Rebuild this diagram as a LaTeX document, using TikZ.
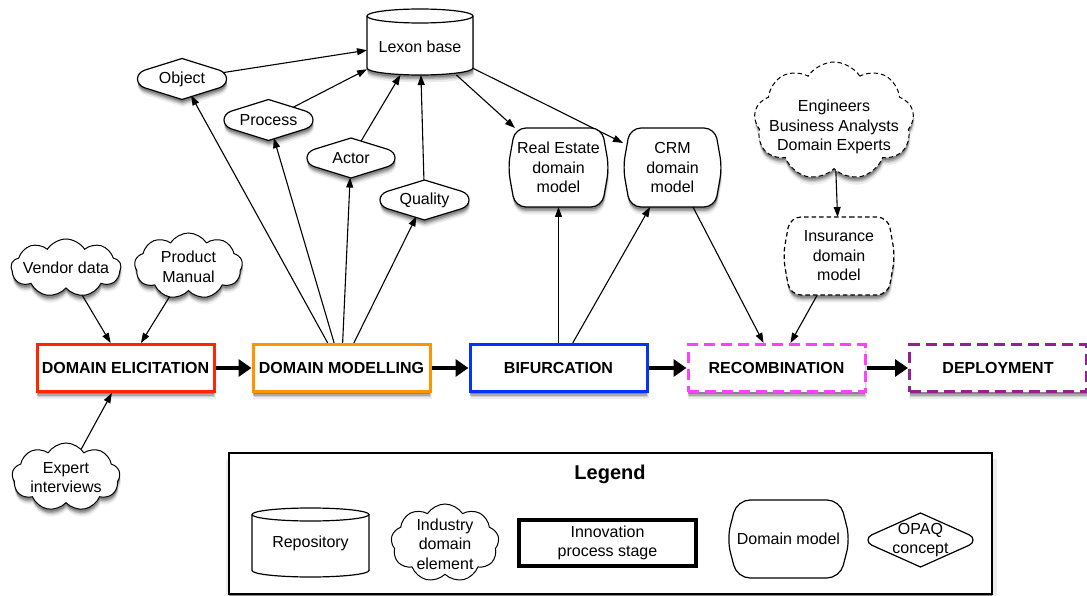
\documentclass[tikz,border=0pt]{standalone}
\usepackage{fontspec}
\setmainfont{Liberation Sans}
\usetikzlibrary{shapes.geometric,shapes.symbols,arrows.meta,shadows}

\pgfdeclarelayer{frame}
\pgfdeclarelayer{links}
\pgfdeclarelayer{outlines}
\pgfsetlayers{frame,links,outlines,main}

\definecolor{elicit}{RGB}{255,38,0}
\definecolor{modelc}{RGB}{255,147,0}
\definecolor{bifur}{RGB}{4,51,255}
\definecolor{recomb}{RGB}{255,64,255}
\definecolor{deploy}{RGB}{148,33,146}

\tikzset{
  lbl/.style={font=\fontsize{16}{19.5}\selectfont, align=center, inner sep=0pt},
  softshadow/.style={
    general shadow={fill=black, opacity=0.07, shadow xshift=0.8pt, shadow yshift=-7pt, shadow scale=1.01},
    general shadow={fill=black, opacity=0.12, shadow xshift=0.6pt, shadow yshift=-5.5pt},
    general shadow={fill=black, opacity=0.18, shadow xshift=0.4pt, shadow yshift=-4pt},
    general shadow={fill=black, opacity=0.22, shadow xshift=0.2pt, shadow yshift=-2.5pt}},
  stage/.style={rectangle, draw=#1, line width=3pt, fill=white, minimum width=177pt,
    minimum height=47pt, inner sep=0pt, font=\fontsize{16}{19.5}\selectfont\bfseries, softshadow},
  dashedstage/.style={stage=#1, dash pattern=on 11pt off 6pt},
  shortdash/.style={dash pattern=on 4.5pt off 3pt},
  link/.style={line width=1.1pt, -{Triangle[length=10pt,width=7pt]}},
  flow/.style={line width=4pt, -{Triangle[length=13pt,width=17pt]}},
  outline/.style={draw=black, line width=1.2pt, fill=white},
  puff/.style={cloud, cloud puffs=9, cloud puff arc=115, cloud ignores aspect, draw=black,
    line width=1pt, fill=white, inner sep=0pt, outer sep=0pt},
}

% OPAQ concept: pointed top and bottom, rounded ends
% [style] name, cx, cy, half width, half height, corner x fraction, corner y fraction, text
\newcommand\opaqnode[9][]{%
  \begin{pgfonlayer}{outlines}
    \path[outline,#1] ({#3},{#4-#6})
      -- ({#3+#7*#5},{#4-#8*#6})
      .. controls ({#3+(4-#7)/3*#5},{#4-0.6*#8*#6}) and ({#3+(4-#7)/3*#5},{#4+0.6*#8*#6}) .. ({#3+#7*#5},{#4+#8*#6})
      -- ({#3},{#4+#6})
      -- ({#3-#7*#5},{#4+#8*#6})
      .. controls ({#3-(4-#7)/3*#5},{#4+0.6*#8*#6}) and ({#3-(4-#7)/3*#5},{#4-0.6*#8*#6}) .. ({#3-#7*#5},{#4-#8*#6})
      -- cycle;
  \end{pgfonlayer}
  \node[diamond, minimum width={2*#5}, minimum height={2*#6}, inner sep=0pt, outer sep=0pt] (#2) at ({#3},{#4}) {};
  \node[lbl] at (#2.center) {#9};}

% domain model: flat top and bottom, bowed sides
% [style] name, cx, cy, half width, half height, side bow, corner radius, text
\newcommand\dmnode[9][]{%
  \begin{pgfonlayer}{outlines}
    \path[outline, rounded corners=#8pt, #1] ({#3},{#4-#6}) -- ({#3+#5-#7},{#4-#6}) -- ({#3+#5},{#4})
      -- ({#3+#5-#7},{#4+#6}) -- ({#3-#5+#7},{#4+#6}) -- ({#3-#5},{#4}) -- ({#3-#5+#7},{#4-#6}) -- cycle;
  \end{pgfonlayer}
  \node[lbl, minimum width={2*#5}, minimum height={2*#6}, outer sep=0pt] (#2) at ({#3},{#4}) {#9};}

% repository cylinder: [style] cx, top rim y, bottom rim y, half width, rim half height
\newcommand\cylshape[6][]{%
  \path[outline,#1] ({#2-#5},{#3}) -- ({#2-#5},{#4})
    arc[start angle=180, end angle=360, x radius=#5pt, y radius=#6pt]
    -- ({#2+#5},{#3}) arc[start angle=0, end angle=180, x radius=#5pt, y radius=#6pt] -- cycle;
  \draw[line width=1.2pt] ({#2-#5},{#3}) arc[start angle=180, end angle=360, x radius=#5pt, y radius=#6pt];}

\begin{document}
\begin{tikzpicture}[x=1pt, y=-1pt]
\useasboundingbox (0,0) rectangle (1087,596);

% ---------- repository ----------
\begin{pgfonlayer}{outlines}
  \cylshape[softshadow]{420}{16}{68}{53}{7}
\end{pgfonlayer}
\node[minimum width=106pt, minimum height=66pt, inner sep=0pt, outer sep=0pt] (lexon) at (420,42) {};
\node[lbl] at (420,47) {Lexon base};

% ---------- OPAQ concepts ----------
\opaqnode[softshadow]{obj}{182}{79}{44.5}{20.5}{0.84}{0.43}{Object}
\opaqnode[softshadow]{proc}{268.5}{120}{44.5}{20.5}{0.84}{0.43}{Process}
\opaqnode[softshadow]{act}{351}{158}{44}{20}{0.84}{0.43}{Actor}
\opaqnode[softshadow]{qual}{424.5}{200}{44.5}{20}{0.84}{0.43}{Quality}

% ---------- domain models ----------
\dmnode[softshadow]{re}{558.5}{167.5}{50.5}{39.5}{7}{11}{Real Estate\\domain\\model}
\dmnode[softshadow]{crm}{672.5}{167.5}{49.5}{39.5}{7}{11}{CRM\\domain\\model}
\dmnode[softshadow, shortdash]{ins}{839}{256}{56}{39}{7}{11}{Insurance\\domain\\model}

% ---------- industry domain elements ----------
\node[puff, minimum width=110pt, minimum height=58pt, softshadow] (vendor) at (66,268) {};
\node[lbl] at (vendor.center) {Vendor data};
\node[puff, minimum width=108pt, minimum height=66pt, softshadow] (prod) at (188.5,266) {};
\node[lbl] at (188.5,267) {Product\\Manual};
\node[puff, minimum width=108pt, minimum height=68pt, softshadow] (expert) at (66,477) {};
\node[lbl] at (66,477.5) {Expert\\interviews};
\node[puff, shortdash, minimum width=160pt, minimum height=118pt, softshadow] (eng) at (834,121) {};
\node[lbl] at (834,127) {Engineers\\Business Analysts\\Domain Experts};

% ---------- innovation process stages ----------
\node[stage=elicit] (de) at (125.5,368) {DOMAIN ELICITATION};
\node[stage=modelc] (dm) at (341.5,368) {DOMAIN MODELLING};
\node[stage=bifur] (bif) at (558.5,368) {BIFURCATION};
\node[dashedstage=recomb] (rec) at (776.5,368) {RECOMBINATION};
\node[dashedstage=deploy] (dep) at (998,368) {DEPLOYMENT};

% ---------- connectors ----------
\begin{pgfonlayer}{links}
  \draw[flow] (de) -- (dm);
  \draw[flow] (dm) -- (bif);
  \draw[flow] (bif) -- (rec);
  \draw[flow] (rec) -- (dep);

  \draw[link] (vendor) -- (de);
  \draw[link] (prod) -- (de);
  \draw[link] (expert) -- (de);

  \draw[link] (dm) -- (obj);
  \draw[link] (dm) -- (proc);
  \draw[link] (dm) -- (act);
  \draw[link] (dm) -- (qual);

  \draw[link] (obj) -- (lexon);
  \draw[link] (proc) -- (lexon);
  \draw[link] (act) -- (lexon);
  \draw[link] (qual) -- (lexon);

  \draw[link] (lexon) -- (re);
  \draw[link] (lexon) -- (crm);
  \draw[link] (bif) -- (re);
  \draw[link] (bif) -- (crm);
  \draw[link] (crm) -- (rec);
  \draw[link] (ins) -- (rec);
  \draw[link] (eng) -- (ins);
\end{pgfonlayer}

% ---------- legend ----------
\begin{pgfonlayer}{frame}
  \node[draw=black, line width=1.2pt, fill=white, minimum width=763pt, minimum height=141pt,
        inner sep=0pt, softshadow] (legend) at (610.5,523.5) {};
\end{pgfonlayer}
\node[font=\fontsize{20}{24}\selectfont\bfseries, inner sep=0pt] (legendtitle) at (610,474) {Legend};

\begin{pgfonlayer}{outlines}
  \cylshape{310.5}{514.5}{570.5}{58.5}{6.5}
\end{pgfonlayer}
\node[lbl] (keyrepo) at (310.5,543) {Repository};

\node[puff, minimum width=108pt, minimum height=78pt] (keycloud) at (445,543) {};
\node[lbl] at (445,544) {Industry\\domain\\element};

\node[rectangle, draw=black, line width=3.5pt, minimum width=177pt, minimum height=46pt, lbl]
  (keystage) at (607.5,543) {Innovation\\process stage};

\dmnode{keydm}{788.5}{539}{61.5}{39}{10}{13}{Domain model}
\opaqnode{keyopaq}{920.5}{540}{52.5}{27}{0.93}{0.19}{OPAQ\\concept}

\end{tikzpicture}
\end{document}
